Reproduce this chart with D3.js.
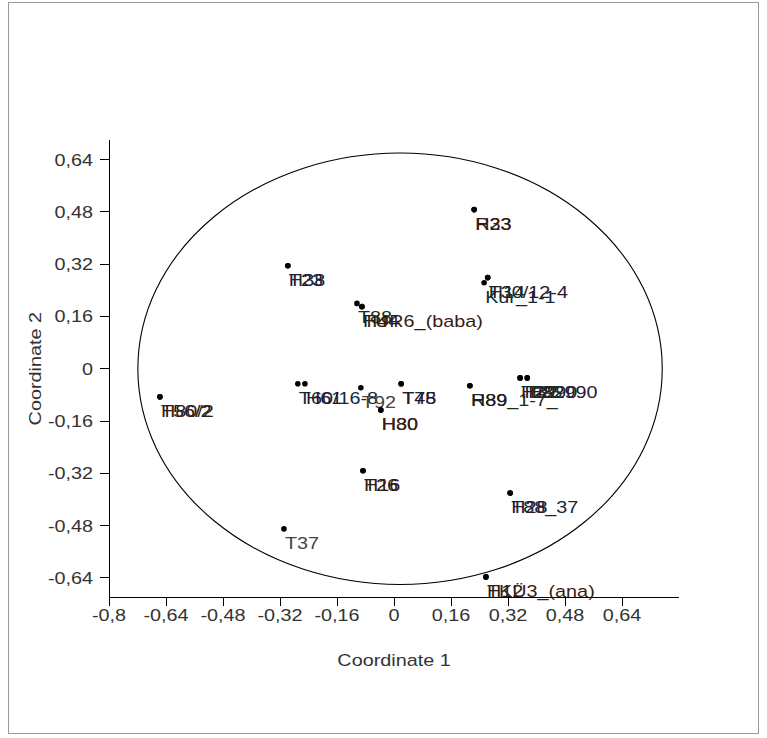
<!DOCTYPE html>
<html>
<head>
<meta charset="utf-8">
<script src="https://cdn.jsdelivr.net/npm/d3@7"></script>
<style>
  body { margin: 0; background: #fff; }
  text { font-family: "Liberation Sans", Arial, sans-serif; }
</style>
</head>
<body>
<div id="chart"></div>
<script>
// coordinate values
const labels = ["H23", "R33", "H38", "T23", "T88", "H44", "TUR6_(baba)", "Kur_1-1", "T30/12-4", "H14",
  "T56/2", "H80/2", "T60/16-8", "H61", "T92", "H80", "H30", "T75", "T48", "R89_1-7_", "H89",
  "H32", "T2990", "H82990", "T25", "T26", "H16", "T88_37", "H28", "T37", "H12", "TKÜ3_(ana)"]
const coord1 = [0.225, 0.225, -0.298, -0.298, -0.104, -0.090, -0.090, 0.253, 0.263, 0.263,
  -0.657, -0.657, -0.270, -0.250, -0.093, -0.037, -0.037, 0.020, 0.020, 0.213, 0.213,
  0.354, 0.354, 0.374, 0.374, -0.087, -0.087, 0.326, 0.326, -0.309, 0.258, 0.258]
const coord2 = [0.487, 0.487, 0.315, 0.315, 0.200, 0.190, 0.190, 0.263, 0.279, 0.279,
  -0.086, -0.086, -0.046, -0.046, -0.058, -0.126, -0.126, -0.046, -0.046, -0.052, -0.052,
  -0.028, -0.028, -0.028, -0.028, -0.312, -0.312, -0.380, -0.380, -0.490, -0.637, -0.637]

const xTicks = [-0.8, -0.64, -0.48, -0.32, -0.16, 0, 0.16, 0.32, 0.48, 0.64]
const yTicks = [-0.64, -0.48, -0.32, -0.16, 0, 0.16, 0.32, 0.48, 0.64]

// ellipse: centre, radii in data units
const ellipseCentre = [0.017, 0.0]
const ellipseRadii = [0.736, 0.66]

const width = 767, height = 738
const fs = 16.5, stretch = 1.2
const txtColor = "#333"
// overlapping labels in the original blur into dark, slightly tinted blocks
const labelColors = ["#1e1e1e", "#3a1a12", "#122a38", "#2c1632", "#183018"]

const x = d3.scaleLinear().domain([-0.8, 0.8]).range([109, 679])
const y = d3.scaleLinear().domain([-0.7, 0.7]).range([597.5, 140])

const fmt = v => v === 0 ? "0" : String(+v.toFixed(2)).replace(".", ",")

const svg = d3.select("#chart").append("svg")
  .attr("width", width).attr("height", height)

svg.append("rect")
  .attr("x", 8.5).attr("y", 2.5)
  .attr("width", 750).attr("height", 731)
  .attr("fill", "none").attr("stroke", "#999")

function txt(g, px, py, s, anchor, rot) {
  return g.append("text")
    .attr("transform", `translate(${px},${py})` + (rot ? ` rotate(${rot})` : "") + ` scale(${stretch},1)`)
    .attr("text-anchor", anchor || "start")
    .attr("font-size", fs)
    .attr("fill", txtColor)
    .text(s)
}

// axes
const ax = svg.append("g").attr("stroke", "#000").attr("shape-rendering", "crispEdges")
ax.append("line").attr("x1", x(-0.8)).attr("x2", x(0.8)).attr("y1", y(-0.7)).attr("y2", y(-0.7))
ax.append("line").attr("x1", x(-0.8)).attr("x2", x(-0.8)).attr("y1", y(-0.7)).attr("y2", y(0.7))
ax.selectAll(".xt").data(xTicks).join("line")
  .attr("x1", d => x(d)).attr("x2", d => x(d))
  .attr("y1", y(-0.7)).attr("y2", y(-0.7) + 8)
ax.selectAll(".yt").data(yTicks).join("line")
  .attr("x1", x(-0.8) - 9).attr("x2", x(-0.8))
  .attr("y1", d => y(d)).attr("y2", d => y(d))

const tg = svg.append("g")
xTicks.forEach(v => txt(tg, x(v), y(-0.7) + 23, fmt(v), "middle"))
yTicks.forEach(v => txt(tg, x(-0.8) - 16, y(v) + 6, fmt(v), "end"))

txt(tg, x(0), 666, "Coordinate 1", "middle")
txt(tg, 41, y(0), "Coordinate 2", "middle", -90)

// ellipse
svg.append("ellipse")
  .attr("cx", x(ellipseCentre[0])).attr("cy", y(ellipseCentre[1]))
  .attr("rx", x(ellipseRadii[0]) - x(0)).attr("ry", y(0) - y(ellipseRadii[1]))
  .attr("fill", "none").attr("stroke", "#000").attr("stroke-width", 1.1)

// points and labels
const pts = labels.map((l, i) => ({ label: l, c1: coord1[i], c2: coord2[i] }))
const shared = pts.map(d => pts.filter(e => Math.abs(e.c1 - d.c1) < 0.03 && Math.abs(e.c2 - d.c2) < 0.03).length)

const lg = svg.append("g")
pts.forEach((d, i) => {
  txt(lg, x(d.c1) + 1, y(d.c2) + 20, d.label, "start")
    .attr("fill", shared[i] > 1 ? labelColors[i % labelColors.length] : "#444")
})

svg.append("g").selectAll("circle").data(pts).join("circle")
  .attr("cx", d => x(d.c1)).attr("cy", d => y(d.c2))
  .attr("r", 2.8).attr("fill", "#000")
</script>
</body>
</html>
